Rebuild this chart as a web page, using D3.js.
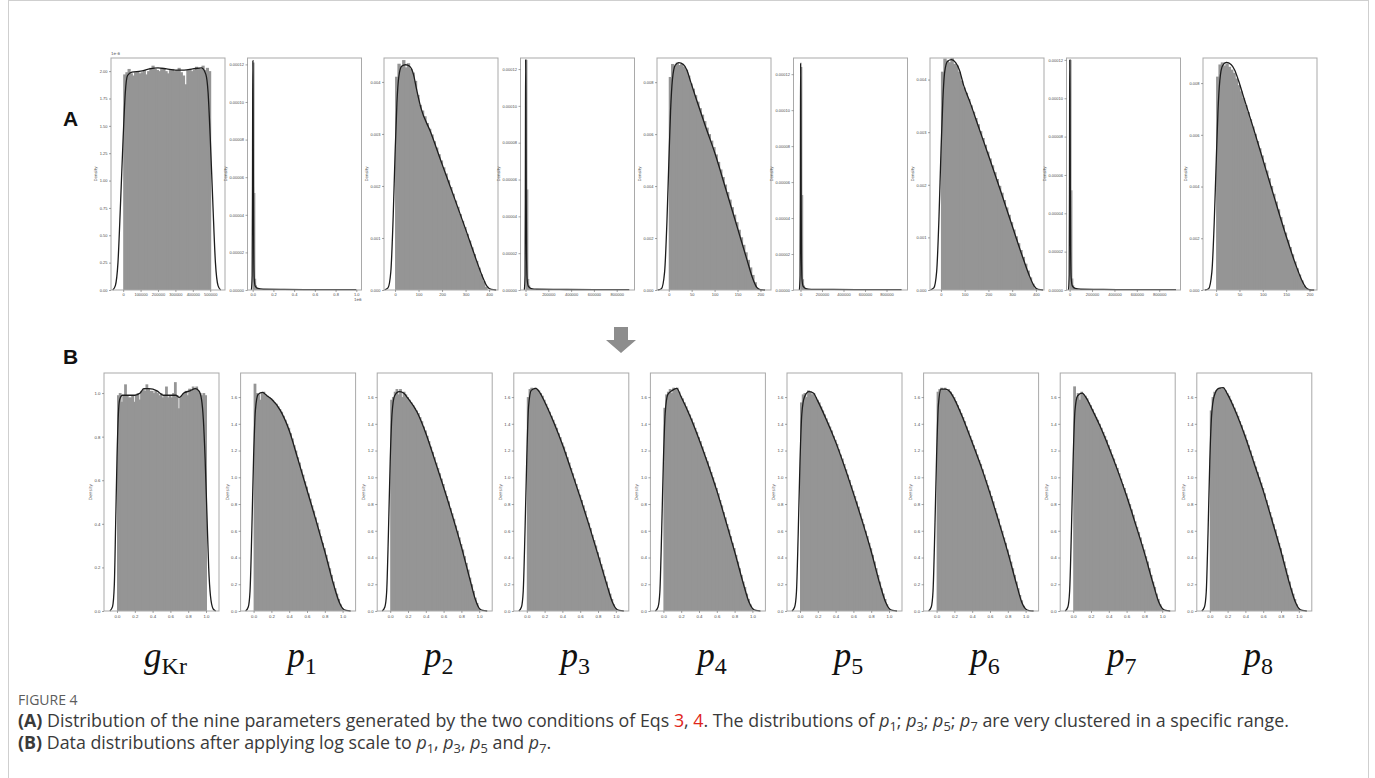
<!DOCTYPE html>
<html>
<head>
<meta charset="utf-8">
<script src="https://cdn.jsdelivr.net/npm/d3@7/dist/d3.min.js"></script>
<style>
  body { margin: 0; background: #fff; }
  svg { display: block; }
</style>
</head>
<body>
<script>
// ---------- values ----------

// Row A: raw distributions. Histogram heights per bin (bins start at 0).
const aBinWidth = [12500, 0.008, 10, 8000, 5, 8000, 10, 8000, 5];

// gKr (x1e-6)
const aGkrHist = [1.97, 1.99, 2.02, 1.98, 1.96, 1.99, 2.00, 1.98, 1.99, 2.01, 1.97, 2.00, 2.03, 2.05, 2.02,
  2.01, 2.00, 2.03, 2.02, 2.00, 1.98, 2.01, 2.02, 2.00, 2.01, 2.03, 1.99, 1.96, 1.88, 2.01, 2.02, 2.00,
  2.01, 2.04, 2.03, 2.02, 2.05, 2.01, 2.03, 2.00];
const aGkrKde = [[-60000, 0], [-45000, 0.04], [-30000, 0.25], [-15000, 0.8], [0, 1.4], [12000, 1.8],
  [25000, 1.96], [50000, 1.99], [100000, 2.0], [150000, 2.02], [200000, 2.03], [250000, 2.02],
  [300000, 2.01], [350000, 2.01], [400000, 2.02], [450000, 2.03], [475000, 1.97], [488000, 1.8],
  [500000, 1.4], [515000, 0.8], [530000, 0.25], [545000, 0.04], [560000, 0]];

// p1 (x in 1e6, density x1e-5)
const aP1Hist = [12.1, 5.16, 0.6, 0.25, 0.12, 0.08, 0.06, 0.05, 0.04, 0.03];
const aP1Kde = [[-0.012, 0], [-0.005, 0.8], [-0.002, 5], [0, 10], [0.002, 12.2], [0.004, 10.5],
  [0.007, 5.5], [0.01, 2], [0.015, 0.6], [0.025, 0.2], [0.05, 0.08], [0.1, 0.04], [0.3, 0.03],
  [0.6, 0.02], [1.0, 0.02]];

// p2 (density x1e-3)
const aP2Hist = [4.10, 4.35, 4.30, 4.42, 4.28, 4.36, 4.25, 4.18, 4.02, 3.75, 3.56, 3.45, 3.34, 3.21, 3.10,
  2.99, 2.86, 2.74, 2.61, 2.49, 2.36, 2.24, 2.11, 1.98, 1.85, 1.72, 1.60, 1.46, 1.33, 1.21, 1.08, 0.95,
  0.82, 0.69, 0.56, 0.43, 0.30, 0.17, 0.06];
const aP2Kde = [[-45, 0], [-30, 0.04], [-18, 0.35], [-8, 1.4], [0, 2.6], [8, 3.6], [16, 4.1], [28, 4.3],
  [45, 4.33], [62, 4.3], [78, 4.15], [92, 3.85], [110, 3.5], [150, 3.05], [200, 2.42], [250, 1.8],
  [300, 1.17], [340, 0.65], [370, 0.28], [390, 0.08], [410, 0.01], [430, 0]];

// p3 (density x1e-5)
const aP3Hist = [12.5, 5.46, 0.6, 0.25, 0.12, 0.08, 0.06, 0.05, 0.04];
const aP3Kde = [[-10000, 0], [-4000, 0.8], [-1500, 5], [0, 10], [1500, 12.5], [3500, 10.5], [6000, 5.5],
  [9000, 2], [14000, 0.6], [25000, 0.2], [50000, 0.08], [100000, 0.04], [300000, 0.03],
  [600000, 0.02], [910000, 0.02]];

// p4 (density x1e-3)
const aP4Hist = [8.20, 8.70, 8.62, 8.75, 8.66, 8.71, 8.60, 8.48, 8.25, 7.95, 7.75, 7.50, 7.25, 7.00, 6.75,
  6.50, 6.25, 6.00, 5.75, 5.50, 5.22, 4.93, 4.64, 4.35, 4.06, 3.77, 3.48, 3.19, 2.90, 2.61, 2.32, 2.03,
  1.74, 1.45, 1.16, 0.87, 0.58, 0.30, 0.08];
const aP4Kde = [[-24, 0], [-16, 0.05], [-9, 0.7], [-4, 2.6], [0, 4.8], [4, 6.9], [8, 8.1], [14, 8.65],
  [22, 8.75], [32, 8.68], [40, 8.45], [48, 8.0], [60, 7.35], [80, 6.3], [100, 5.3], [125, 3.85],
  [150, 2.38], [170, 1.2], [183, 0.45], [192, 0.1], [200, 0.01], [210, 0]];

// p5 (density x1e-5)
const aP5Hist = [12.4, 5.28, 0.6, 0.25, 0.12, 0.08, 0.06, 0.05, 0.04];
const aP5Kde = [[-10000, 0], [-4000, 0.8], [-1500, 5], [0, 10], [1500, 12.6], [3500, 10.6], [6000, 5.5],
  [9000, 2], [14000, 0.6], [25000, 0.2], [50000, 0.08], [100000, 0.04], [300000, 0.03],
  [600000, 0.02], [940000, 0.02]];

// p6 (density x1e-3)
const aP6Hist = [4.15, 4.40, 4.36, 4.33, 4.41, 4.30, 4.27, 4.15, 3.98, 3.85, 3.75, 3.63, 3.51, 3.39, 3.27,
  3.15, 3.02, 2.89, 2.76, 2.63, 2.50, 2.37, 2.24, 2.11, 1.98, 1.85, 1.71, 1.57, 1.43, 1.29, 1.15, 1.02,
  0.89, 0.76, 0.63, 0.50, 0.37, 0.24, 0.12, 0.03];
const aP6Kde = [[-45, 0], [-30, 0.04], [-18, 0.35], [-8, 1.4], [0, 2.6], [8, 3.6], [16, 4.15], [28, 4.35],
  [45, 4.38], [62, 4.32], [78, 4.18], [95, 3.9], [120, 3.6], [160, 3.08], [200, 2.56], [250, 1.9],
  [300, 1.22], [340, 0.68], [370, 0.3], [392, 0.08], [410, 0.01], [430, 0]];

// p7 (density x1e-5)
const aP7Hist = [12.0, 5.2, 0.6, 0.25, 0.12, 0.08, 0.06, 0.05, 0.04];
const aP7Kde = [[-10000, 0], [-4000, 0.8], [-1500, 5], [0, 10], [1500, 12.0], [3500, 10.2], [6000, 5.4],
  [9000, 2], [14000, 0.6], [25000, 0.2], [50000, 0.08], [100000, 0.04], [300000, 0.03],
  [600000, 0.02], [950000, 0.02]];

// p8 (density x1e-3)
const aP8Hist = [8.25, 8.72, 8.80, 8.68, 8.76, 8.63, 8.52, 8.40, 8.18, 7.92, 7.68, 7.42, 7.15, 6.88, 6.60,
  6.32, 6.04, 5.76, 5.48, 5.20, 4.92, 4.62, 4.32, 4.02, 3.72, 3.42, 3.12, 2.82, 2.52, 2.22, 1.94, 1.66,
  1.38, 1.10, 0.84, 0.60, 0.37, 0.17, 0.05];
const aP8Kde = [[-24, 0], [-16, 0.05], [-9, 0.7], [-4, 2.6], [0, 4.8], [4, 6.9], [8, 8.1], [14, 8.68],
  [22, 8.8], [32, 8.72], [40, 8.5], [48, 8.1], [60, 7.4], [80, 6.25], [100, 5.05], [125, 3.55],
  [150, 2.08], [170, 1.0], [183, 0.4], [192, 0.1], [200, 0.01], [210, 0]];

const aHists = [aGkrHist, aP1Hist, aP2Hist, aP3Hist, aP4Hist, aP5Hist, aP6Hist, aP7Hist, aP8Hist];
const aKdes = [aGkrKde, aP1Kde, aP2Kde, aP3Kde, aP4Kde, aP5Kde, aP6Kde, aP7Kde, aP8Kde];

const aXDomains = [[-70000, 585000], [-0.05, 1.05], [-47, 438], [-44000, 956000], [-25.6, 223],
  [-65000, 995000], [-46, 434], [-28000, 990000], [-28, 216]];
const aYDomains = [[0, 2.12], [0, 12.34], [0, 4.46], [0, 12.6], [0, 8.93], [0, 12.9], [0, 4.41],
  [0, 12.1], [0, 8.97]];

const bigTicks = [0, 200000, 400000, 600000, 800000];
const aXTicks = [[0, 100000, 200000, 300000, 400000, 500000], [0, 0.2, 0.4, 0.6, 0.8, 1.0],
  [0, 100, 200, 300, 400], bigTicks, [0, 50, 100, 150, 200], bigTicks, [0, 100, 200, 300, 400],
  bigTicks, [0, 50, 100, 150, 200]];
const spikeYTicks = [0, 2, 4, 6, 8, 10, 12];
const aYTicks = [[0, 0.25, 0.5, 0.75, 1.0, 1.25, 1.5, 1.75, 2.0], spikeYTicks, [0, 1, 2, 3, 4],
  spikeYTicks, [0, 2, 4, 6, 8], spikeYTicks, [0, 1, 2, 3, 4], spikeYTicks, [0, 2, 4, 6, 8]];

// Row B: after log scaling, all on [0, 1], 50 bins
const bGkrHist = [0.99, 1.00, 0.96, 0.99, 1.04, 0.99, 0.98, 0.98, 0.99, 0.96, 0.99, 1.00, 0.97, 1.01, 1.02,
  1.01, 1.04, 1.02, 1.01, 1.01, 1.00, 1.01, 1.00, 0.99, 1.00, 0.98, 0.99, 1.03, 0.98, 0.99, 0.98, 1.00,
  1.05, 0.99, 0.93, 0.98, 0.99, 1.00, 1.01, 0.99, 1.02, 1.01, 1.03, 1.02, 1.03, 1.01, 1.00, 0.99, 1.00, 0.99];
const bGkrKde = [[-0.08, 0], [-0.05, 0.02], [-0.03, 0.12], [-0.015, 0.4], [0, 0.7], [0.015, 0.9],
  [0.03, 0.97], [0.06, 0.99], [0.12, 0.99], [0.2, 0.99], [0.26, 1.0], [0.3, 1.02], [0.36, 1.02],
  [0.45, 1.01], [0.52, 0.99], [0.6, 0.99], [0.66, 0.99], [0.7, 0.98], [0.75, 1.0], [0.82, 1.01],
  [0.88, 1.02], [0.92, 1.01], [0.95, 0.97], [0.97, 0.88], [0.99, 0.7], [1.01, 0.45], [1.03, 0.2],
  [1.05, 0.07], [1.08, 0.01], [1.11, 0]];

const bP1Hist = [1.70, 1.63, 1.62, 1.58, 1.63, 1.64, 1.62, 1.61, 1.60, 1.59, 1.58, 1.56, 1.55, 1.53, 1.51,
  1.49, 1.46, 1.43, 1.40, 1.37, 1.33, 1.29, 1.24, 1.20, 1.15, 1.11, 1.06, 1.02, 0.97, 0.93, 0.88, 0.84,
  0.79, 0.75, 0.70, 0.66, 0.61, 0.56, 0.51, 0.47, 0.42, 0.37, 0.32, 0.27, 0.22, 0.17, 0.13, 0.09, 0.05, 0.02];
const bP2Hist = [1.58, 1.60, 1.64, 1.66, 1.62, 1.66, 1.60, 1.64, 1.62, 1.60, 1.58, 1.56, 1.54, 1.52, 1.50,
  1.48, 1.45, 1.42, 1.38, 1.35, 1.31, 1.27, 1.23, 1.19, 1.15, 1.11, 1.07, 1.03, 0.99, 0.95, 0.90, 0.86,
  0.82, 0.77, 0.73, 0.69, 0.64, 0.60, 0.55, 0.50, 0.46, 0.41, 0.36, 0.31, 0.25, 0.20, 0.15, 0.10, 0.06, 0.02];
const bP3Hist = [1.60, 1.66, 1.67, 1.66, 1.67, 1.66, 1.65, 1.63, 1.61, 1.58, 1.55, 1.52, 1.49, 1.46, 1.43,
  1.40, 1.37, 1.33, 1.30, 1.26, 1.23, 1.19, 1.15, 1.11, 1.07, 1.03, 0.99, 0.95, 0.91, 0.87, 0.83, 0.79,
  0.75, 0.70, 0.66, 0.62, 0.57, 0.53, 0.49, 0.44, 0.40, 0.35, 0.31, 0.26, 0.22, 0.17, 0.13, 0.09, 0.05, 0.02];
const bP4Hist = [1.52, 1.62, 1.64, 1.66, 1.63, 1.67, 1.66, 1.67, 1.64, 1.61, 1.59, 1.56, 1.53, 1.50, 1.47,
  1.44, 1.41, 1.37, 1.34, 1.30, 1.27, 1.23, 1.19, 1.15, 1.12, 1.08, 1.04, 1.00, 0.96, 0.92, 0.88, 0.83,
  0.79, 0.74, 0.70, 0.65, 0.61, 0.56, 0.51, 0.47, 0.42, 0.37, 0.32, 0.27, 0.22, 0.18, 0.13, 0.09, 0.05, 0.02];
const bP5Hist = [1.56, 1.62, 1.63, 1.60, 1.65, 1.64, 1.62, 1.63, 1.60, 1.58, 1.56, 1.53, 1.50, 1.47, 1.44,
  1.41, 1.38, 1.35, 1.31, 1.28, 1.25, 1.21, 1.17, 1.14, 1.10, 1.06, 1.02, 0.98, 0.94, 0.90, 0.86, 0.82,
  0.78, 0.73, 0.69, 0.65, 0.60, 0.56, 0.51, 0.47, 0.42, 0.37, 0.32, 0.27, 0.22, 0.17, 0.13, 0.09, 0.05, 0.02];
const bP6Hist = [1.64, 1.66, 1.67, 1.66, 1.67, 1.65, 1.66, 1.64, 1.62, 1.60, 1.57, 1.54, 1.51, 1.48, 1.45,
  1.42, 1.38, 1.35, 1.31, 1.28, 1.24, 1.21, 1.17, 1.13, 1.10, 1.06, 1.02, 0.98, 0.94, 0.90, 0.86, 0.82,
  0.77, 0.73, 0.69, 0.64, 0.60, 0.55, 0.51, 0.46, 0.42, 0.37, 0.32, 0.27, 0.22, 0.17, 0.12, 0.08, 0.04, 0.01];
const bP7Hist = [1.68, 1.60, 1.63, 1.58, 1.64, 1.62, 1.61, 1.59, 1.56, 1.54, 1.51, 1.48, 1.45, 1.43, 1.40,
  1.37, 1.34, 1.31, 1.28, 1.24, 1.21, 1.17, 1.14, 1.10, 1.07, 1.03, 0.99, 0.95, 0.92, 0.88, 0.84, 0.80,
  0.76, 0.72, 0.67, 0.63, 0.59, 0.55, 0.50, 0.46, 0.41, 0.37, 0.32, 0.27, 0.22, 0.18, 0.13, 0.09, 0.05, 0.02];
const bP8Hist = [1.50, 1.60, 1.64, 1.65, 1.66, 1.67, 1.66, 1.67, 1.65, 1.63, 1.61, 1.58, 1.55, 1.52, 1.49,
  1.46, 1.42, 1.39, 1.35, 1.32, 1.28, 1.24, 1.20, 1.16, 1.12, 1.08, 1.04, 1.00, 0.96, 0.92, 0.88, 0.83,
  0.79, 0.74, 0.70, 0.65, 0.61, 0.56, 0.51, 0.47, 0.42, 0.37, 0.32, 0.27, 0.22, 0.17, 0.13, 0.09, 0.05, 0.02];

const bKdeX = [-0.09, -0.06, -0.04, -0.02, 0, 0.02, 0.05, 0.1, 0.15, 0.2, 0.3, 0.4, 0.5, 0.6, 0.7, 0.8, 0.9, 0.96, 1.0, 1.04, 1.09];
const bP1Kde = [0, 0.03, 0.15, 0.6, 1.15, 1.5, 1.62, 1.635, 1.61, 1.585, 1.50, 1.35, 1.13, 0.905, 0.68, 0.445, 0.195, 0.07, 0.02, 0.004, 0];
const bP2Kde = [0, 0.03, 0.14, 0.58, 1.12, 1.47, 1.61, 1.64, 1.63, 1.59, 1.49, 1.33, 1.13, 0.925, 0.71, 0.48, 0.225, 0.08, 0.02, 0.004, 0];
const bP3Kde = [0, 0.03, 0.15, 0.6, 1.15, 1.53, 1.65, 1.665, 1.63, 1.565, 1.415, 1.245, 1.05, 0.85, 0.64, 0.42, 0.195, 0.07, 0.02, 0.004, 0];
const bP4Kde = [0, 0.03, 0.14, 0.58, 1.12, 1.48, 1.62, 1.65, 1.665, 1.60, 1.455, 1.285, 1.10, 0.90, 0.675, 0.445, 0.2, 0.07, 0.02, 0.004, 0];
const bP5Kde = [0, 0.03, 0.14, 0.58, 1.12, 1.47, 1.6, 1.64, 1.63, 1.57, 1.425, 1.265, 1.08, 0.88, 0.67, 0.445, 0.195, 0.07, 0.02, 0.004, 0];
const bP6Kde = [0, 0.03, 0.15, 0.6, 1.16, 1.54, 1.66, 1.66, 1.64, 1.585, 1.435, 1.26, 1.08, 0.88, 0.665, 0.44, 0.195, 0.06, 0.015, 0.003, 0];
const bP7Kde = [0, 0.03, 0.15, 0.6, 1.15, 1.5, 1.61, 1.63, 1.59, 1.525, 1.385, 1.225, 1.05, 0.86, 0.65, 0.435, 0.2, 0.07, 0.02, 0.004, 0];
const bP8Kde = [0, 0.03, 0.14, 0.58, 1.12, 1.46, 1.61, 1.665, 1.67, 1.62, 1.475, 1.30, 1.10, 0.90, 0.675, 0.445, 0.195, 0.07, 0.02, 0.004, 0];

const bHists = [bGkrHist, bP1Hist, bP2Hist, bP3Hist, bP4Hist, bP5Hist, bP6Hist, bP7Hist, bP8Hist];
const bKdes = [bGkrKde].concat([bP1Kde, bP2Kde, bP3Kde, bP4Kde, bP5Kde, bP6Kde, bP7Kde, bP8Kde]
  .map(ys => ys.map((v, i) => [bKdeX[i], v])));
const bBinWidth = 0.02;
const bXTicks = [0, 0.2, 0.4, 0.6, 0.8, 1.0];
const bYTicksGkr = [0, 0.2, 0.4, 0.6, 0.8, 1.0];
const bYTicks = [0, 0.2, 0.4, 0.6, 0.8, 1.0, 1.2, 1.4, 1.6];

const paramBase = ["g", "p", "p", "p", "p", "p", "p", "p", "p"];
const paramSub = ["Kr", "1", "2", "3", "4", "5", "6", "7", "8"];

// ---------- drawing ----------
const W = 1375, H = 778;
const histColor = "#959595";

const svg = d3.select("body").append("svg")
  .attr("width", W)
  .attr("height", H)
  .style("font-family", "'DejaVu Sans', sans-serif");

// figure frame
svg.append("rect")
  .attr("x", 8.5).attr("y", 0.5)
  .attr("width", 1360).attr("height", 820)
  .attr("fill", "none").attr("stroke", "#cfcfcf");

function styleAxis(g, fs) {
  g.select(".domain").remove();
  g.selectAll(".tick line").attr("stroke", "#666").attr("stroke-width", 0.6);
  g.selectAll(".tick text").attr("fill", "#4a4a4a").style("font-size", fs + "px");
}

function drawPanel(p) {
  const x = d3.scaleLinear().domain(p.xDomain).range([0, p.w]);
  const y = d3.scaleLinear().domain(p.yDomain).range([p.h, 0]);
  const g = svg.append("g").attr("transform", `translate(${p.left},${p.top})`);

  // bars overlap by a pixel so no hairline seams show between them
  g.selectAll("rect.bar")
    .data(p.hist)
    .join("rect")
    .attr("class", "bar")
    .attr("x", (d, i) => x(i * p.binW))
    .attr("y", d => y(d))
    .attr("width", x(p.binW) - x(0) + 1)
    .attr("height", d => y(0) - y(d))
    .attr("fill", histColor);

  g.append("path")
    .datum(p.kde)
    .attr("d", d3.line().x(d => x(d[0])).y(d => y(d[1])).curve(d3.curveMonotoneX))
    .attr("fill", "none")
    .attr("stroke", "#1c1c1c")
    .attr("stroke-width", 1.3);

  g.append("rect")
    .attr("width", p.w).attr("height", p.h)
    .attr("fill", "none").attr("stroke", "#a9a9a9").attr("stroke-width", 1);

  g.append("g")
    .attr("transform", `translate(0,${p.h})`)
    .call(d3.axisBottom(x).tickValues(p.xTicks).tickFormat(p.xFmt).tickSize(2).tickPadding(1.5))
    .call(s => styleAxis(s, p.fs));

  const ya = g.append("g")
    .call(d3.axisLeft(y).tickValues(p.yTicks).tickFormat(p.yFmt).tickSize(2).tickPadding(1.5))
    .call(s => styleAxis(s, p.fs));

  // "Density" label just left of the widest tick label
  let maxW = 0;
  ya.selectAll(".tick text").each(function () { maxW = Math.max(maxW, this.getComputedTextLength()); });
  g.append("text")
    .attr("transform", `translate(${-maxW - 6},${p.h / 2}) rotate(-90)`)
    .attr("text-anchor", "middle")
    .attr("fill", "#555")
    .style("font-size", p.fs + "px")
    .text("Density");

  if (p.topNote) {
    g.append("text").attr("x", 0).attr("y", -3)
      .attr("fill", "#555").style("font-size", p.fs + "px").text(p.topNote);
  }
  if (p.bottomNote) {
    g.append("text").attr("x", p.w).attr("y", p.h + 11).attr("text-anchor", "end")
      .attr("fill", "#555").style("font-size", p.fs + "px").text(p.bottomNote);
  }
}

// Row A
const rowA = { left0: 111, step: 136.5, w: 114, top: 58, h: 232 };
const spikeFmt = d => (d * 1e-5).toFixed(5);
const thouFmt = d => (d / 1000).toFixed(3);
const aYFmts = [d3.format(".2f"), spikeFmt, thouFmt, spikeFmt, thouFmt, spikeFmt, thouFmt, spikeFmt, thouFmt];
const aXFmts = [d3.format("d"), d3.format(".1f"), d3.format("d"), d3.format("d"), d3.format("d"),
  d3.format("d"), d3.format("d"), d3.format("d"), d3.format("d")];

for (let i = 0; i < 9; i++) {
  drawPanel({
    left: rowA.left0 + i * rowA.step, top: rowA.top, w: rowA.w, h: rowA.h,
    xDomain: aXDomains[i], yDomain: aYDomains[i],
    hist: aHists[i], binW: aBinWidth[i], kde: aKdes[i],
    xTicks: aXTicks[i], yTicks: aYTicks[i], xFmt: aXFmts[i], yFmt: aYFmts[i],
    fs: 4,
    topNote: i === 0 ? "1e-6" : null,
    bottomNote: i === 1 ? "1e6" : null
  });
}

// Row B
const rowB = { left0: 104, step: 136.6, w: 115, top: 373, h: 238 };
const bCenters = [];
for (let i = 0; i < 9; i++) {
  const left = rowB.left0 + i * rowB.step;
  bCenters.push(left + rowB.w / 2);
  drawPanel({
    left: left, top: rowB.top, w: rowB.w, h: rowB.h,
    xDomain: [-0.146, 1.146], yDomain: i === 0 ? [0, 1.092] : [0, 1.78],
    hist: bHists[i], binW: bBinWidth, kde: bKdes[i],
    xTicks: bXTicks, yTicks: i === 0 ? bYTicksGkr : bYTicks,
    xFmt: d3.format(".1f"), yFmt: d3.format(".1f"),
    fs: 4.3
  });
}

// panel letters
svg.append("text").attr("x", 63).attr("y", 126)
  .style("font-family", "'Liberation Sans', Arial, sans-serif")
  .style("font-size", "21px").style("font-weight", "bold").attr("fill", "#111").text("A");
svg.append("text").attr("x", 63).attr("y", 364)
  .style("font-family", "'Liberation Sans', Arial, sans-serif")
  .style("font-size", "21px").style("font-weight", "bold").attr("fill", "#111").text("B");

// down arrow between the rows
const ax = 621;
svg.append("polygon")
  .attr("points", [[ax - 7, 327], [ax + 7, 327], [ax + 7, 340], [ax + 15, 340], [ax, 353],
    [ax - 15, 340], [ax - 7, 340]].map(p => p.join(",")).join(" "))
  .attr("fill", "#8d8d8d");

// parameter names under row B
bCenters.forEach((cx, i) => {
  const t = svg.append("text")
    .attr("x", cx + 4).attr("y", 667)
    .attr("text-anchor", "middle")
    .style("font-family", "'Liberation Serif', 'DejaVu Serif', serif")
    .style("font-size", "35px")
    .attr("fill", "#111");
  t.append("tspan").style("font-style", "italic").text(paramBase[i]);
  t.append("tspan").attr("dy", 7).style("font-size", "24px").text(paramSub[i]);
});

// caption
const capFont = "'Open Sans', 'Noto Sans', sans-serif";
svg.append("text").attr("x", 18).attr("y", 705)
  .style("font-family", capFont).style("font-size", "14px")
  .attr("fill", "#5c5c5c").text("FIGURE 4");

function addRuns(text, runs) {
  let back = 0;
  runs.forEach(r => {
    if (r.sub) {
      text.append("tspan").attr("dy", back || null).style("font-style", "italic").text(r.t);
      text.append("tspan").attr("dy", 3.5).style("font-size", "0.72em").text(r.sub);
      back = -3.5;
    } else {
      const s = text.append("tspan").attr("dy", back || null).text(r.t);
      if (r.bold) s.style("font-weight", "bold");
      if (r.red) s.attr("fill", "#e0251b");
      back = 0;
    }
  });
}

const line1 = svg.append("text").attr("x", 18).attr("y", 727)
  .style("font-family", capFont).style("font-size", "15px").attr("fill", "#3a3a3a");
addRuns(line1, [
  { t: "(A)", bold: true },
  { t: " Distribution of the nine parameters generated by the two conditions of Eqs " },
  { t: "3", red: true }, { t: ", " }, { t: "4", red: true },
  { t: ". The distributions of " },
  { t: "p", sub: "1" }, { t: "; " }, { t: "p", sub: "3" }, { t: "; " },
  { t: "p", sub: "5" }, { t: "; " }, { t: "p", sub: "7" },
  { t: " are very clustered in a specific range." }
]);

const line2 = svg.append("text").attr("x", 18).attr("y", 749)
  .style("font-family", capFont).style("font-size", "15px").attr("fill", "#3a3a3a");
addRuns(line2, [
  { t: "(B)", bold: true },
  { t: " Data distributions after applying log scale to " },
  { t: "p", sub: "1" }, { t: ", " }, { t: "p", sub: "3" }, { t: ", " },
  { t: "p", sub: "5" }, { t: " and " }, { t: "p", sub: "7" }, { t: "." }
]);

// fit the caption to the width it has in the figure
const targetW = 1272;
const w1 = line1.node().getComputedTextLength();
const fs = 15 * targetW / w1;
line1.style("font-size", fs + "px");
line2.style("font-size", fs + "px");
</script>
</body>
</html>
